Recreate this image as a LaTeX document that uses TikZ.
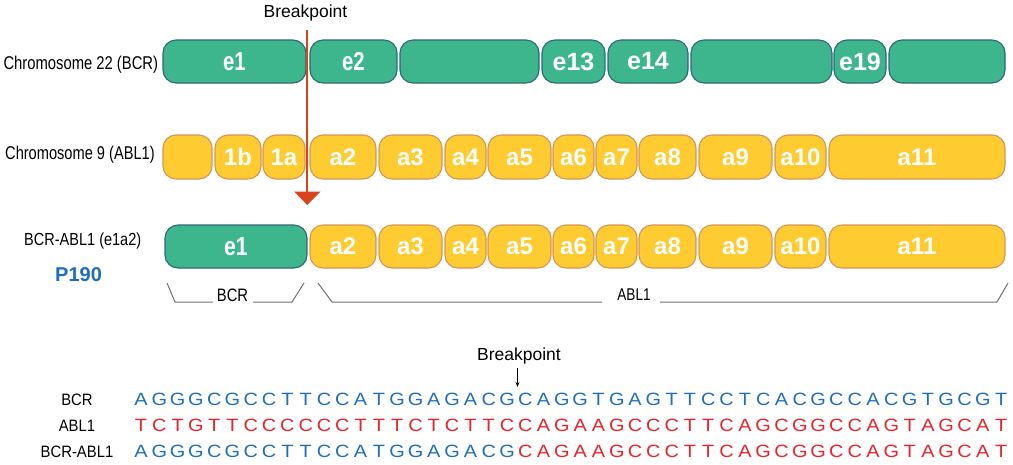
\documentclass[tikz,border=0pt]{standalone}
\usepackage{fontspec}
\setmainfont{Liberation Sans}
\usetikzlibrary{arrows.meta}
\definecolor{gfill}{HTML}{3DB58D}
\definecolor{gline}{HTML}{2E6973}
\definecolor{yfill}{HTML}{FECB30}
\definecolor{yline}{HTML}{D4955A}
\definecolor{bpred}{HTML}{D9441F}
\definecolor{seqblue}{HTML}{1E6EC0}
\definecolor{seqred}{HTML}{E8232A}
\definecolor{brgray}{HTML}{707070}
\newcommand\fsz[1]{\fontsize{#1}{#1}\selectfont}
\newcommand\hs[2]{\scalebox{#1}[1]{#2}}
\tikzset{
  exonbase/.style={draw, rounded corners=13pt, line width=1.1pt, inner sep=0pt, text=white},
  gex/.style={exonbase, fill=gfill, draw=gline, minimum height=43pt},
  yex/.style={exonbase, fill=yfill, draw=yline, minimum height=43pt, font=\fsz{24}\bfseries},
  lbl/.style={inner sep=0pt, anchor=base west},
  seqch/.style={inner sep=0pt, anchor=base, font=\fsz{17.8}},
  brline/.style={draw=brgray, line width=1pt},
}
\begin{document}
\begin{tikzpicture}[x=1pt,y=-1pt]
\useasboundingbox (0,0) rectangle (1013,464);
% ---------- labels
\node[inner sep=0pt, anchor=base, font=\fsz{17.5}] (bp1) at (305.5,17.7) {Breakpoint};
\node[lbl, font=\fsz{18.5}] (l22) at (3.3,69.3) {\hs{0.8}{Chromosome 22 (BCR)}};
\node[lbl, font=\fsz{18.5}] (l9) at (5,159.3) {\hs{0.79}{Chromosome 9 (ABL1)}};
\node[lbl, font=\fsz{17.5}] (lf) at (24,245.7) {\hs{0.83}{BCR-ABL1 (e1a2)}};
\node[lbl, font=\fsz{20}\bfseries, text=seqblue] (p190) at (55,281.7) {P190};
% ---------- chromosome 22
\node[gex, minimum width=143pt, font=\fsz{26}\bfseries] (c22e1) at (234.5,61.5) {\hs{0.78}{e1}};
\node[gex, minimum width=87pt, font=\fsz{26}\bfseries] (c22e2) at (353.5,61.5) {\hs{0.78}{e2}};
\node[gex, minimum width=139pt] (c22b1) at (469.5,61.5) {};
\node[gex, minimum width=63pt, font=\fsz{25}\bfseries] (c22e13) at (573.5,61.5) {e13};
\node[gex, minimum width=80pt, font=\fsz{25}\bfseries] (c22e14) at (648,61.5) {e14};
\node[gex, minimum width=141pt] (c22b2) at (761.5,61.5) {};
\node[gex, minimum width=52pt, font=\fsz{25}\bfseries] (c22e19) at (860,61.5) {e19};
\node[gex, minimum width=116pt] (c22b3) at (947,61.5) {};
% ---------- chromosome 9
\node[yex, minimum width=49pt, minimum height=44pt] (c9b) at (187.5,157) {};
\node[yex, minimum width=46pt, minimum height=44pt] (c9x1b) at (238,157) {1b};
\node[yex, minimum width=42pt, minimum height=44pt] (c9x1a) at (284,157) {1a};
\foreach \nm/\cx/\w in {a2/343/66, a3/410.5/63, a4/465.5/41, a5/519.5/63, a6/573.5/41, a7/616.5/41, a8/667.5/57, a9/735.5/73, a10/800.5/51, a11/917/176}{
  \node[yex, minimum width=\w pt, minimum height=44pt] (c9\nm) at (\cx,157) {\nm};
}
% ---------- fusion
\node[gex, minimum width=142pt, font=\fsz{26}\bfseries] (fe1) at (236,246.5) {\hs{0.82}{e1}};
\foreach \nm/\cx/\w in {a2/343/66, a3/410.5/63, a4/465.5/41, a5/519.5/63, a6/573.5/41, a7/616.5/41, a8/667.5/57, a9/735.5/73, a10/800.5/51, a11/917/176}{
  \node[yex, minimum width=\w pt] (f\nm) at (\cx,246.5) {\nm};
}
% ---------- breakpoint arrow
\coordinate (bptop) at (307.3,30);
\coordinate (bpbot) at (307.3,205);
\draw[bpred, line width=2pt, -{Triangle[width=26pt,length=13.5pt]}] (bptop) -- (bpbot);
% ---------- brackets
\node[inner sep=0pt, anchor=base, font=\fsz{18}] (brbcr) at (232.5,301) {\hs{0.82}{BCR}};
\node[inner sep=0pt, anchor=base, font=\fsz{17}] (brabl) at (634,300.7) {\hs{0.8}{ABL1}};
\draw[brline] (167,283) -- (175,302) -- (213,302);
\draw[brline] (253,302) -- (292,302) -- (304,283);
\draw[brline] (318,283) -- (332,302) -- (602,302);
\draw[brline] (660,302) -- (997,302) -- (1008,283);
% ---------- sequences
\node[inner sep=0pt, anchor=base, font=\fsz{17.5}] (bp2) at (519,360.7) {Breakpoint};
\coordinate (bp2top) at (517.5,368);
\coordinate (bp2bot) at (517.5,387);
\draw[black, line width=0.8pt, -{Stealth[length=5pt,width=4pt]}] (bp2top) -- (bp2bot);
\node[inner sep=0pt, anchor=base, font=\fsz{16.5}] (sbcr) at (77,405) {\hs{0.9}{BCR}};
\node[inner sep=0pt, anchor=base, font=\fsz{16.5}] (sabl) at (77,431.7) {\hs{0.9}{ABL1}};
\node[inner sep=0pt, anchor=base, font=\fsz{16.5}] (sfus) at (77,457.5) {\hs{0.9}{BCR-ABL1}};
\foreach \ch [count=\i] in {A,G,G,G,C,G,C,C,T,T,C,C,A,T,G,G,A,G,A,C,G,C,A,G,G,T,G,A,G,T,T,C,C,T,C,A,C,G,C,C,A,C,G,T,G,C,G,T}
  \node[seqch, text=seqblue] (qb\i) at ({141+(\i-1)*18.3},405) {\hs{1.12}{\ch}};
\foreach \ch [count=\i] in {T,C,T,G,T,T,C,C,C,C,C,C,T,T,T,C,T,C,T,T,C,C,A,G,A,A,G,C,C,C,T,T,C,A,G,C,G,G,C,C,A,G,T,A,G,C,A,T}
  \node[seqch, text=seqred] (qa\i) at ({141+(\i-1)*18.3},431.7) {\hs{1.12}{\ch}};
\foreach \ch [count=\i] in {A,G,G,G,C,G,C,C,T,T,C,C,A,T,G,G,A,G,A,C,G}
  \node[seqch, text=seqblue] (qf\i) at ({141+(\i-1)*18.3},457.5) {\hs{1.12}{\ch}};
\foreach \ch [count=\i from 22] in {C,A,G,A,A,G,C,C,C,T,T,C,A,G,C,G,G,C,C,A,G,T,A,G,C,A,T}
  \node[seqch, text=seqred] (qf\i) at ({141+(\i-1)*18.3},457.5) {\hs{1.12}{\ch}};
\end{tikzpicture}
\end{document}
